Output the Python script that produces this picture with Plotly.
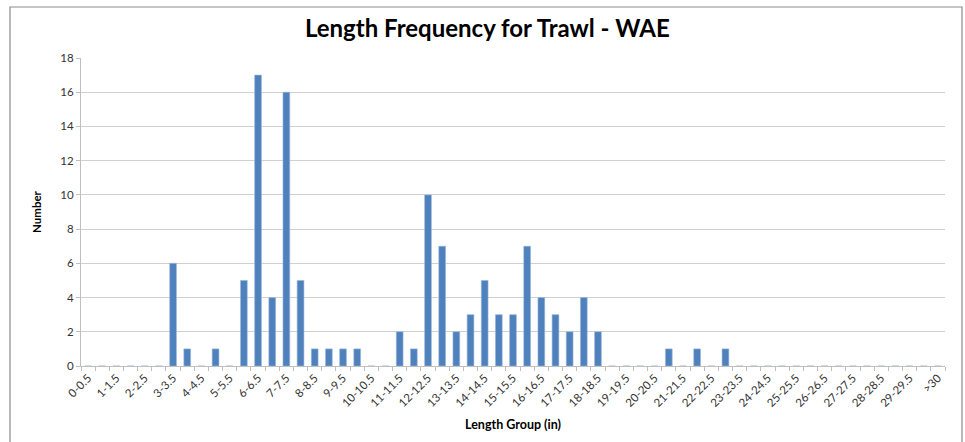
import plotly.graph_objects as go

categories = []
for i in range(60):
    a = i * 0.5
    b = a + 0.5
    fmt = lambda v: str(int(v)) if v == int(v) else str(v)
    categories.append(f"{fmt(a)}-{fmt(b)}")
categories.append(">30")

counts = [0, 0, 0, 0, 0, 0, 6, 1, 0, 1,
          0, 5, 17, 4, 16, 5, 1, 1, 1, 1,
          0, 0, 2, 1, 10, 7, 2, 3, 5, 3,
          3, 7, 4, 3, 2, 4, 2, 0, 0, 0,
          0, 1, 0, 1, 0, 1, 0, 0, 0, 0,
          0, 0, 0, 0, 0, 0, 0, 0, 0, 0,
          0]

yticks = list(range(0, 19, 2))
ticktext = [c if i % 2 == 0 else "" for i, c in enumerate(categories)]

fig = go.Figure()
fig.add_trace(go.Bar(
    x=categories, y=counts,
    marker=dict(color="#4F81BD", line=dict(color="#9DB9DC", width=0.6)),
    showlegend=False,
))

fig.update_layout(
    width=965, height=442,
    margin=dict(l=81, r=20, t=58, b=76, autoexpand=False),
    paper_bgcolor="white", plot_bgcolor="white",
    bargap=0.52,
    font=dict(family="Lato, Open Sans, sans-serif", color="#333333"),
    title=dict(text="<b>Length Frequency for Trawl - WAE</b>", x=0.505, xanchor="center",
               y=0.935, yanchor="middle",
               font=dict(family="Lato, Open Sans, sans-serif", size=24, color="#000000")),
    xaxis=dict(
        type="category",
        tickmode="array", tickvals=categories, ticktext=ticktext,
        tickson="boundaries", ticks="outside", ticklen=4, tickcolor="#BFBFBF",
        tickangle=-45, tickfont=dict(size=11.5, color="#333333"),
        showgrid=False, showline=True, linecolor="#BFBFBF", linewidth=1,
        range=[-0.5, len(categories) - 0.5],
        title=dict(text="<b>Length Group (in)</b>", standoff=12,
                   font=dict(size=12.5, color="#000000")),
    ),
    yaxis=dict(
        range=[0, 18], tickmode="array", tickvals=yticks,
        showgrid=True, gridcolor="#D0D0D0", gridwidth=1.3,
        ticks="outside", ticklen=4, tickcolor="#BFBFBF",
        showline=True, linecolor="#BFBFBF", linewidth=1,
        zeroline=False,
        tickfont=dict(size=11.5, color="#333333"),
        title=dict(text="<b>Number</b>", standoff=16,
                   font=dict(size=11.5, color="#000000")),
    ),
    shapes=[dict(type="rect", xref="paper", yref="paper",
                 x0=-71/864, x1=(962-81)/864, y0=-(442-366+10)/308, y1=(366-7)/308,
                 line=dict(color="#8C8C8C", width=1.2), layer="below")],
)

fig.write_html("out.html", config={"displayModeBar": False},
               post_script="document.body.style.margin='0';document.body.style.overflow='hidden';")
